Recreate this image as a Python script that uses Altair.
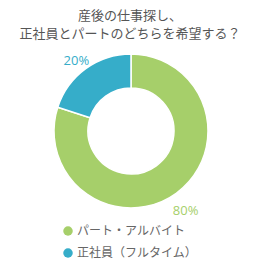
import altair as alt
import pandas as pd

categories = ["パート・アルバイト", "正社員（フルタイム）"]
values = [80, 20]
labels = ["80%", "20%"]
order = [1, 2]
colors = ["#a6cf6a", "#36adc9"]

df = pd.DataFrame({"cat": categories, "value": values, "label": labels, "ord": order})

CX, CY = 131, 87

base = alt.Chart(df).encode(
    theta=alt.Theta("value:Q", stack=True),
    order=alt.Order("ord:Q"),
    color=alt.Color(
        "cat:N",
        scale=alt.Scale(domain=categories, range=colors),
        legend=alt.Legend(
            title=None,
            orient="none",
            legendX=62,
            legendY=181,
            symbolType="circle",
            symbolSize=90,
            symbolStrokeWidth=0,
            labelFont="Noto Sans CJK JP",
            labelFontSize=12,
            labelColor="#666666",
            rowPadding=10,
            labelOffset=3,
        ),
    ),
)

arcs = base.mark_arc(outerRadius=77, innerRadius=43, stroke="white", strokeWidth=1.5).encode(
    x=alt.value(CX), y=alt.value(CY)
)

text = base.mark_text(font="Open Sans", fontSize=13, align="center", baseline="middle").encode(
    x=alt.value(CX), y=alt.value(CY + 5), radius=alt.value(93), text="label:N"
)

chart = (
    alt.layer(arcs, text)
    .properties(
        width=260,
        height=222,
        padding={"top": 44, "left": 0, "right": 0, "bottom": 0},
        autosize=alt.AutoSizeParams(type="none"),
        title=alt.TitleParams(
            text=["産後の仕事探し、", "正社員とパートのどちらを希望する？"],
            font="Noto Sans CJK JP",
            fontSize=13,
            fontWeight="normal",
            color="#555555",
            lineHeight=18,
            anchor="middle",
            offset=3,
        ),
    )
    .configure_view(stroke=None)
)

chart.save("out.html", embed_options={"renderer": "svg", "actions": False})
